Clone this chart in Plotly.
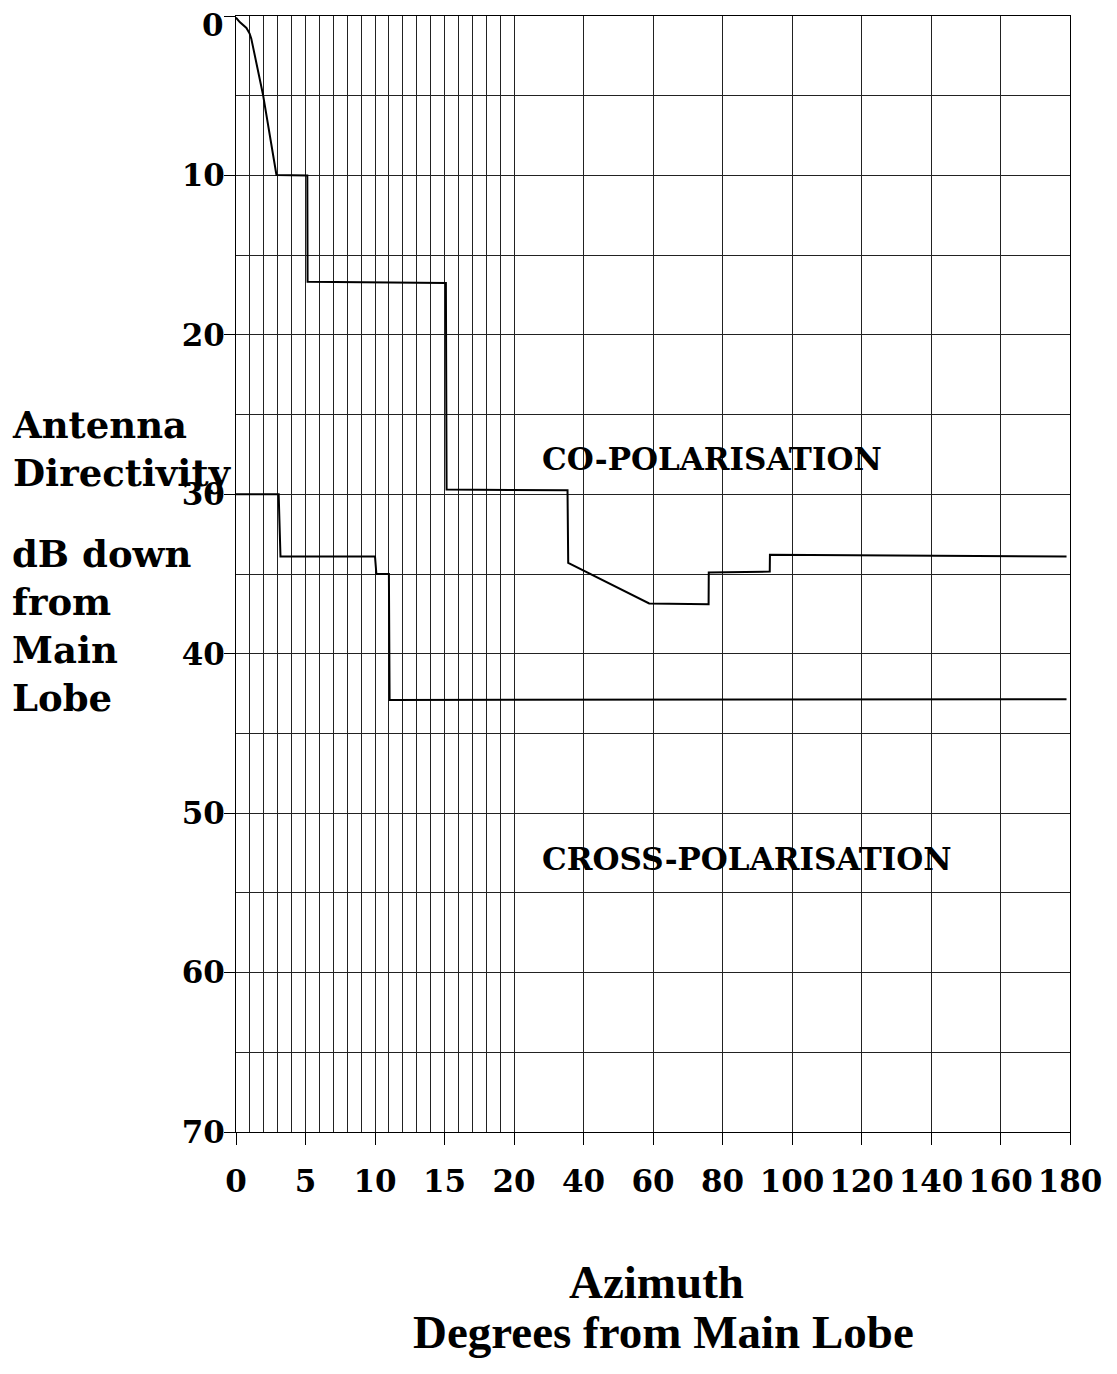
import plotly.graph_objects as go

# ---------------------------
# Data (degrees from main lobe, dB down)
# ---------------------------

co_deg = [0, 0.27, 0.75, 0.98, 1.1, 1.94, 2.91, 5.13, 5.15, 15.1, 15.15,
          35.4, 35.6, 58.9, 76.0, 76.05, 93.6, 93.65, 179]
co_db = [0.1, 0.38, 0.75, 1.1, 1.42, 4.92, 9.97, 10.0, 16.67, 16.75, 29.7,
         29.75, 34.3, 36.85, 36.9, 34.9, 34.85, 33.8, 33.9]

cross_deg = [0, 3.07, 3.2, 10.0, 10.1, 11.0, 11.05, 179]
cross_db = [30.0, 30.0, 33.9, 33.9, 35.0, 35.0, 42.9, 42.85]

x_tick_deg = [0, 5, 10, 15, 20, 40, 60, 80, 100, 120, 140, 160, 180]
x_tick_text = [str(v) for v in x_tick_deg]
x_minor_deg = [d for d in range(1, 20) if d % 5 != 0]

y_ticks = [0, 10, 20, 30, 40, 50, 60, 70]
y_tick_text = [str(v) for v in y_ticks]
y_minor = [5, 15, 25, 35, 45, 55, 65]


# azimuth axis: 1 deg steps up to 20, then compressed 4x
def azimuth_axis(deg):
    return deg if deg <= 20 else 20 + (deg - 20) / 4


# page pixel -> paper coords (plot area 236..1072 x 15..1132)
def px(x):
    return (x - 236) / 836


def py(y):
    return (1132.3 - y) / 1117.6


SERIF = "DejaVu Serif"
TIMES = "Liberation Serif"

fig = go.Figure()

fig.add_trace(go.Scatter(
    x=[azimuth_axis(d) for d in co_deg], y=co_db,
    mode="lines", line=dict(color="black", width=2),
    name="Co-polarisation", showlegend=False
))
fig.add_trace(go.Scatter(
    x=[azimuth_axis(d) for d in cross_deg], y=cross_db,
    mode="lines", line=dict(color="black", width=2),
    name="Cross-polarisation", showlegend=False
))

grid = "#222222"
tick_font = dict(family=SERIF, size=31, color="black", weight="bold")

fig.update_xaxes(
    range=[0, azimuth_axis(180)],
    tickmode="array",
    tickvals=[azimuth_axis(d) for d in x_tick_deg],
    ticktext=x_tick_text,
    ticks="outside", ticklen=12, tickcolor="black", tickwidth=1,
    ticklabelstandoff=10,
    showgrid=True, gridcolor=grid, gridwidth=1,
    minor=dict(tickvals=x_minor_deg, showgrid=True, gridcolor=grid,
               gridwidth=1, ticks=""),
    showline=True, linecolor="black", mirror=True,
    zeroline=False,
    tickfont=tick_font,
)
# the top "0" label sits a little below its grid line, drawn as annotation
fig.update_yaxes(
    range=[70, 0],
    tickmode="array",
    tickvals=y_ticks,
    ticktext=[""] + y_tick_text[1:],
    ticks="outside", ticklen=11, tickcolor="black", tickwidth=1,
    ticklabelstandoff=-7,
    showgrid=True, gridcolor=grid, gridwidth=1,
    minor=dict(tickvals=y_minor, showgrid=True, gridcolor=grid,
               gridwidth=1, ticks=""),
    showline=True, linecolor="black", mirror=True,
    zeroline=False,
    tickfont=tick_font,
)

label_font = dict(family=SERIF, size=37, color="black", weight="bold")
curve_font = dict(family=SERIF, size=31, color="black", weight="bold")
axis_font = dict(family=TIMES, size=47, color="black", weight="bold")

annotations = [
    dict(text=y_tick_text[0], xref="paper", yref="y",
         x=px(226), y=y_ticks[0], yshift=-9, xanchor="right",
         yanchor="middle", showarrow=False, font=tick_font),
    dict(text="Antenna<br>Directivity", xref="paper", yref="paper",
         x=px(9), y=py(448), xanchor="left", yanchor="middle",
         align="left", showarrow=False, font=label_font),
    dict(text="dB down<br>from<br>Main<br>Lobe", xref="paper", yref="paper",
         x=px(9), y=py(626), xanchor="left", yanchor="middle",
         align="left", showarrow=False, font=label_font),
    dict(text="CO-POLARISATION", xref="x", yref="y",
         x=azimuth_axis(27.4), y=27.8, xanchor="left", yanchor="middle",
         showarrow=False, font=curve_font),
    dict(text="CROSS-POLARISATION", xref="x", yref="y",
         x=azimuth_axis(27.4), y=52.9, xanchor="left", yanchor="middle",
         showarrow=False, font=curve_font),
    dict(text="Azimuth", xref="paper", yref="paper",
         x=px(657.5), y=py(1283), xanchor="center", yanchor="middle",
         showarrow=False, font=axis_font),
    dict(text="Degrees from Main Lobe", xref="paper", yref="paper",
         x=px(665), y=py(1333), xanchor="center", yanchor="middle",
         showarrow=False, font=axis_font),
]

# page body has an 8px margin, so the figure is 16px smaller
fig.update_layout(
    width=1101, height=1358,
    margin=dict(l=228, r=37, t=7, b=234),
    plot_bgcolor="white", paper_bgcolor="white",
    annotations=annotations,
)

fig.write_html("out.html")
